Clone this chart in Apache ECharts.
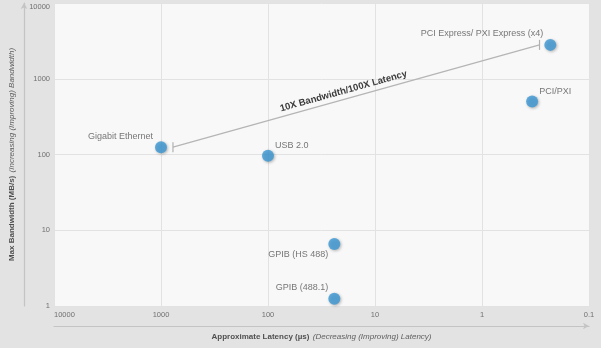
<!DOCTYPE html>
<html>
<head>
<meta charset="utf-8">
<script src="https://cdn.jsdelivr.net/npm/echarts@6/dist/echarts.min.js"></script>
<style>
  html, body { margin: 0; padding: 0; background: #e3e3e3; }
  #chart { width: 601px; height: 348px; }
</style>
</head>
<body>
<div id="chart"></div>
<script>
// ---- data ----
const names = ['Gigabit Ethernet', 'USB 2.0', 'PCI Express/ PXI Express (x4)', 'PCI/PXI', 'GPIB (HS 488)', 'GPIB (488.1)'];
const latency = [1000, 100, 0.23, 0.34, 24, 24];        // µs
const bandwidth = [125, 96, 2800, 500, 6.6, 1.25];      // MB/s
const trendLatency = [773, 0.29];
const trendBandwidth = [125, 2800];
const trendLabel = '10X Bandwidth/100X Latency';
const xAxisTitle = 'Approximate Latency (µs)';
const xAxisSub = '(Decreasing (Improving) Latency)';
const yAxisTitle = 'Max Bandwidth (MB/s)';
const yAxisSub = '(Increasing (Improving) Bandwidth)';
const xRange = [0.1, 10000];
const yRange = [1, 10000];

// ---- label placement (style) ----
const labelStyle = {
  'Gigabit Ethernet': { position: 'left', distance: 2, offset: [0, -11] },
  'USB 2.0': { position: 'right', distance: 1, offset: [0, -10] },
  'PCI Express/ PXI Express (x4)': { position: 'left', distance: 1, offset: [0, -11] },
  'PCI/PXI': { position: 'right', distance: 1, offset: [0, -10] },
  'GPIB (HS 488)': { position: 'left', distance: 0, offset: [0, 11] },
  'GPIB (488.1)': { position: 'left', distance: 0, offset: [0, -11] }
};

const FONT = 'Liberation Sans';
const fmt = v => String(Number(Number(v).toPrecision(6)));

const points = names.map((n, i) => ({
  name: n,
  value: [latency[i], bandwidth[i]],
  label: Object.assign({ show: true, formatter: n }, labelStyle[n])
}));

const chart = echarts.init(document.getElementById('chart'), null, { renderer: 'canvas' });
chart.setOption({
  backgroundColor: '#e3e3e3',
  animation: false,
  textStyle: { fontFamily: FONT },
  grid: {
    left: 54, right: 12, top: 3, bottom: 42,
    outerBoundsMode: 'none', containLabel: false,
    show: true, backgroundColor: '#f8f8f8', borderWidth: 0
  },
  xAxis: [{
    type: 'log', logBase: 10, inverse: true, min: xRange[0], max: xRange[1],
    axisLine: { show: false }, axisTick: { show: false },
    splitLine: { show: true, lineStyle: { color: '#e2e2e2', width: 1 } },
    minorSplitLine: { show: false },
    axisLabel: { fontSize: 7.5, color: '#707070', margin: 5, formatter: fmt, alignMaxLabel: 'left', fontFamily: FONT },
    name: '{b|' + xAxisTitle + '} {i|' + xAxisSub + '}',
    nameLocation: 'middle', nameGap: 25, nameMoveOverlap: false,
    nameTextStyle: {
      rich: {
        b: { fontWeight: 'bold', fontSize: 8, color: '#505050', fontFamily: FONT },
        i: { fontStyle: 'italic', fontSize: 8, color: '#606060', fontFamily: FONT }
      }
    }
  }, {
    type: 'log', logBase: 10, inverse: true, min: xRange[0], max: xRange[1],
    position: 'bottom', offset: 20,
    axisLine: { show: true, symbol: ['none', 'arrow'], symbolSize: [5, 6], lineStyle: { color: '#c4c4c4', width: 1.2 } },
    axisTick: { show: false }, axisLabel: { show: false }, splitLine: { show: false }
  }],
  yAxis: [{
    type: 'log', logBase: 10, min: yRange[0], max: yRange[1],
    axisLine: { show: false }, axisTick: { show: false },
    splitLine: { show: true, lineStyle: { color: '#e2e2e2', width: 1 } },
    axisLabel: { fontSize: 7.5, color: '#707070', margin: 4, formatter: fmt, fontFamily: FONT, verticalAlignMaxLabel: 'top' },
    name: '{b|' + yAxisTitle + '} {i|' + yAxisSub + '}',
    nameLocation: 'middle', nameGap: 36, nameRotate: 90, nameMoveOverlap: false,
    nameTextStyle: {
      rich: {
        b: { fontWeight: 'bold', fontSize: 8, color: '#505050', fontFamily: FONT },
        i: { fontStyle: 'italic', fontSize: 8, color: '#606060', fontFamily: FONT }
      }
    }
  }, {
    type: 'log', logBase: 10, min: yRange[0], max: yRange[1],
    position: 'left', offset: 30,
    axisLine: { show: true, symbol: ['none', 'arrow'], symbolSize: [5, 6], lineStyle: { color: '#c4c4c4', width: 1.2 } },
    axisTick: { show: false }, axisLabel: { show: false }, splitLine: { show: false }
  }],
  series: [{
    type: 'line',
    data: trendLatency.map((x, i) => [x, trendBandwidth[i]]),
    symbol: 'rect', symbolSize: [1.2, 10], showSymbol: true,
    itemStyle: { color: '#b0b0b0' },
    lineStyle: { width: 0 },
    silent: true, z: 2,
    markLine: {
      silent: true, symbol: ['none', 'none'],
      lineStyle: { color: '#b5b5b5', width: 1.2, type: 'solid' },
      label: {
        show: true, position: 'middle', formatter: trendLabel,
        fontWeight: 'bold', fontSize: 9.5, color: '#3c3c3c', distance: 3, fontFamily: FONT,
        padding: [0, 22, 0, 0]
      },
      emphasis: { disabled: true },
      data: [[{ coord: [trendLatency[0], trendBandwidth[0]] }, { coord: [trendLatency[1], trendBandwidth[1]] }]]
    }
  }, {
    type: 'scatter',
    data: points,
    symbolSize: 12,
    itemStyle: { color: '#3a97d3', shadowBlur: 3, shadowColor: 'rgba(0,0,0,0.35)', shadowOffsetX: 1, shadowOffsetY: 1 },
    label: { fontSize: 9, color: '#555', fontFamily: FONT },
    z: 3
  }]
});
</script>
</body>
</html>
